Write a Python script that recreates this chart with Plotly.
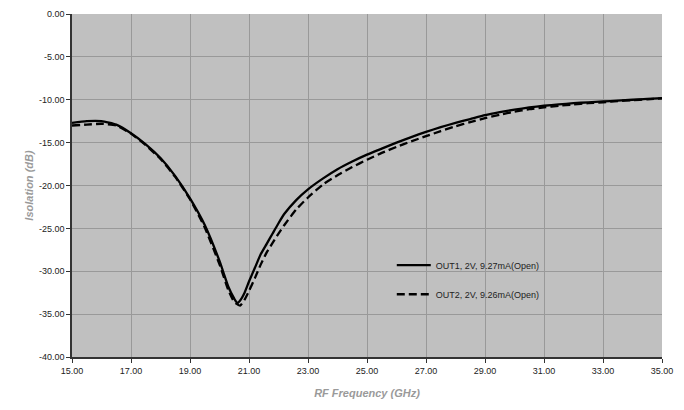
import plotly.graph_objects as go

freq_out1 = [15.0, 15.5, 16.0, 16.5, 17.0, 17.5, 18.0, 18.5, 19.0, 19.5, 20.0, 20.3, 20.5, 20.6, 20.7,
             20.85, 21.0, 21.2, 21.4, 21.6, 21.8, 22.0, 22.2, 22.6, 23.0, 23.5, 24.0, 24.5, 25.0, 25.5,
             26.0, 26.5, 27.0, 27.5, 28.0, 28.5, 29.0, 29.5, 30.0, 30.5, 31.0, 31.5, 32.0, 32.5, 33.0,
             33.5, 34.0, 34.5, 35.0]
iso_out1 = [-12.7, -12.5, -12.5, -12.9, -13.9, -15.2, -16.8, -18.9, -21.5, -24.6, -28.8, -31.8, -33.2,
            -33.7, -33.4, -32.5, -31.2, -29.6, -28.0, -26.8, -25.6, -24.4, -23.3, -21.7, -20.45, -19.2,
            -18.1, -17.2, -16.4, -15.7, -15.0, -14.35, -13.75, -13.2, -12.7, -12.25, -11.8, -11.45,
            -11.15, -10.9, -10.7, -10.55, -10.4, -10.3, -10.2, -10.1, -10.0, -9.9, -9.8]

freq_out2 = [15.0, 15.5, 16.0, 16.5, 17.0, 17.5, 18.0, 18.5, 19.0, 19.5, 20.0, 20.3, 20.5, 20.7, 20.85,
             21.0, 21.2, 21.4, 21.6, 21.8, 22.0, 22.2, 22.6, 23.0, 23.5, 24.0, 24.5, 25.0, 25.5, 26.0,
             26.5, 27.0, 27.5, 28.0, 28.5, 29.0, 29.5, 30.0, 30.5, 31.0, 31.5, 32.0, 32.5, 33.0, 33.5,
             34.0, 34.5, 35.0]
iso_out2 = [-13.0, -12.9, -12.8, -13.0, -13.95, -15.3, -16.9, -19.0, -21.6, -24.9, -29.2, -32.2, -33.6,
            -34.0, -33.3, -32.3, -30.8, -29.2, -27.8, -26.7, -25.6, -24.6, -22.8, -21.4, -19.9, -18.8,
            -17.85, -17.0, -16.2, -15.5, -14.85, -14.25, -13.65, -13.1, -12.6, -12.15, -11.75, -11.4,
            -11.1, -10.9, -10.7, -10.55, -10.4, -10.3, -10.15, -10.05, -9.95, -9.85]

series_names = ["OUT1, 2V, 9.27mA(Open)", "OUT2, 2V, 9.26mA(Open)"]

x_ticks = [15, 17, 19, 21, 23, 25, 27, 29, 31, 33, 35]
y_ticks = [0, -5, -10, -15, -20, -25, -30, -35, -40]

fig = go.Figure()
fig.add_trace(go.Scatter(x=freq_out1, y=iso_out1, mode="lines", name=series_names[0],
                         line=dict(color="black", width=2.3, shape="spline", smoothing=0.5),
                         legend="legend"))
fig.add_trace(go.Scatter(x=freq_out2, y=iso_out2, mode="lines", name=series_names[1],
                         line=dict(color="black", width=2.3, dash="8px,4px", shape="spline", smoothing=0.5),
                         legend="legend2"))

tick_font = dict(family="Liberation Sans, Arial, sans-serif", size=9, color="#222")
title_font = dict(family="Liberation Sans, Arial, sans-serif", size=11, color="#9a9a9a")

legend_common = dict(bgcolor="rgba(0,0,0,0)", borderwidth=0,
                     font=dict(family="Liberation Sans, Arial, sans-serif", size=9, color="#222"),
                     xanchor="left", yanchor="middle", itemwidth=34)

# the page body adds an 8px offset, so the figure is sized to compensate
fig.update_layout(
    width=676, height=402,
    margin=dict(l=64, r=22, t=6, b=53, autoexpand=False),
    paper_bgcolor="white",
    plot_bgcolor="#c0c0c0",
    showlegend=True,
    legend=dict(x=0.542, y=0.268, **legend_common),
    legend2=dict(x=0.542, y=0.183, **legend_common),
    xaxis=dict(range=[15, 35], tickvals=x_ticks, ticktext=[f"{v:.2f}" for v in x_ticks],
               showgrid=True, gridcolor="#999999", gridwidth=1,
               showline=True, linecolor="#333", linewidth=1.5,
               ticks="outside", ticklen=4, tickcolor="#333",
               tickfont=tick_font, zeroline=False, automargin=False,
               title=dict(text="<b><i>RF Frequency (GHz)</i></b>", font=title_font, standoff=15)),
    yaxis=dict(range=[-40, 0], tickvals=y_ticks, ticktext=[f"{v:.2f}" for v in y_ticks],
               showgrid=True, gridcolor="#999999", gridwidth=1,
               showline=True, linecolor="#333", linewidth=1.5,
               ticks="outside", ticklen=4, tickcolor="#333",
               tickfont=tick_font, zeroline=False, automargin=False,
               title=dict(text="<b><i>Isolation (dB)</i></b>", font=title_font, standoff=3)),
)

fig.write_html("out.html")
